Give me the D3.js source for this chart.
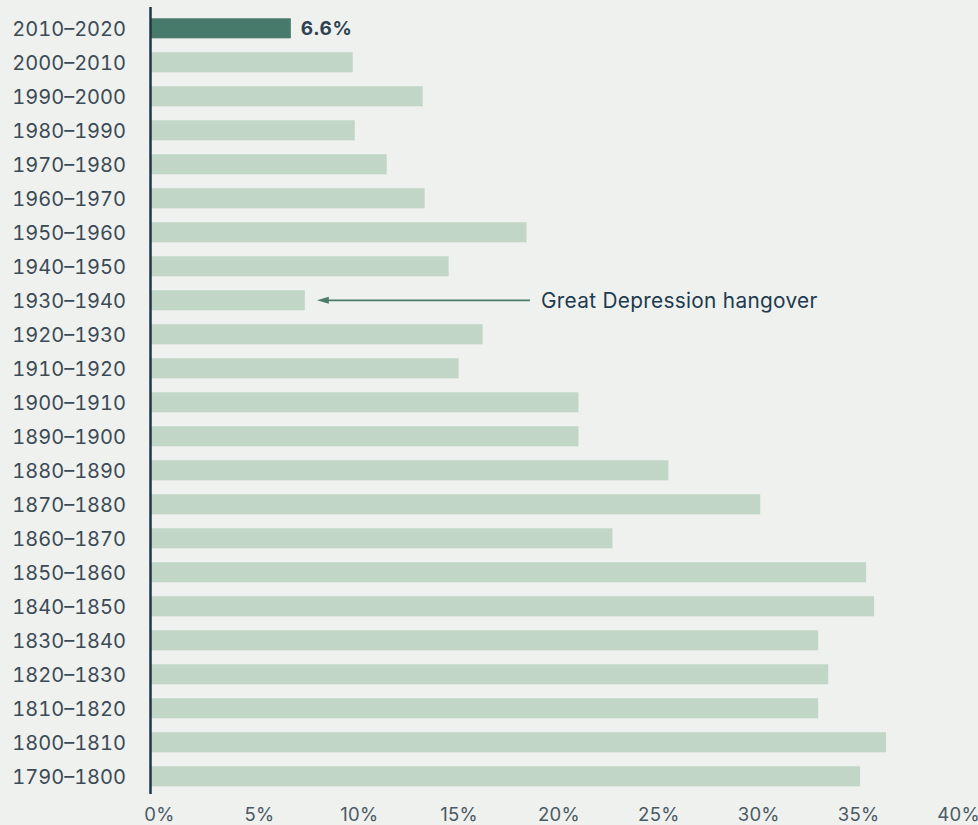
<!DOCTYPE html>
<html>
<head>
<meta charset="utf-8">
<script src="https://cdn.jsdelivr.net/npm/d3@7/dist/d3.min.js"></script>
<style>
  html, body { margin: 0; padding: 0; background: #eff1ee; }
  svg { display: block; }
</style>
</head>
<body>
<svg id="chart" width="978" height="825"></svg>
<script>
const decades = ["2010–2020","2000–2010","1990–2000","1980–1990","1970–1980","1960–1970","1950–1960","1940–1950","1930–1940","1920–1930","1910–1920","1900–1910","1890–1900","1880–1890","1870–1880","1860–1870","1850–1860","1840–1850","1830–1840","1820–1830","1810–1820","1800–1810","1790–1800"];
const growth = [6.6, 9.7, 13.2, 9.8, 11.4, 13.3, 18.4, 14.5, 7.3, 16.2, 15.0, 21.0, 21.0, 25.5, 30.1, 22.7, 35.4, 35.8, 33.0, 33.5, 33.0, 36.4, 35.1];
const tickValues = [0, 5, 10, 15, 20, 25, 30, 35, 40];
const highlight = "2010–2020";
const annotation = { decade: "1930–1940", text: "Great Depression hangover" };

const svg = d3.select("#chart");
const axisX = 150.5;
const x = d3.scaleLinear().domain([0, 40]).range([159, 958]);
const y = d3.scaleBand().domain(decades).range([11.3, 11.3 + 23 * 34]).paddingInner(0.41).paddingOuter(0.205);

// bars
svg.append("g").selectAll("rect")
  .data(decades.map((d, i) => ({ d, v: growth[i] })))
  .join("rect")
  .attr("x", axisX)
  .attr("y", d => y(d.d))
  .attr("width", d => x(d.v) - axisX)
  .attr("height", y.bandwidth())
  .attr("fill", d => d.d === highlight ? "#487a6b" : "#c1d6c7");

// category labels
svg.append("g").selectAll("text")
  .data(decades)
  .join("text")
  .attr("x", 126)
  .attr("y", d => y(d) + y.bandwidth() / 2)
  .attr("dy", "0.36em")
  .attr("text-anchor", "end")
  .attr("font-family", "Inter, sans-serif")
  .attr("font-size", 20)
  .attr("letter-spacing", "0px")
  .style("font-variant-numeric", "tabular-nums")
  .attr("fill", "#3b4a55")
  .text(d => d);

// axis line
svg.append("line")
  .attr("x1", axisX).attr("x2", axisX)
  .attr("y1", 7).attr("y2", 794)
  .attr("stroke", "#1f3647").attr("stroke-width", 2.5);

// x tick labels
const xAxis = d3.axisBottom(x).tickValues(tickValues).tickFormat(d => d + "%").tickSize(0).tickPadding(0);
const gx = svg.append("g").attr("transform", "translate(0,808)").call(xAxis);
gx.select(".domain").remove();
gx.selectAll("text")
  .attr("font-family", "Inter, sans-serif")
  .attr("font-size", 18.5)
  .attr("fill", "#4b5a65")
  .attr("letter-spacing", "0.3px");

// value label for highlighted bar
const hi = decades.indexOf(highlight);
svg.append("text")
  .attr("x", x(growth[hi]) + 10)
  .attr("y", y(highlight) + y.bandwidth() / 2)
  .attr("dy", "0.37em")
  .attr("font-family", "Inter, sans-serif")
  .attr("font-size", 19)
  .attr("font-weight", 700)
  .attr("letter-spacing", "0.6px")
  .attr("fill", "#2e4150")
  .text(growth[hi] + "%");

// annotation arrow
const ai = decades.indexOf(annotation.decade);
const ay = y(annotation.decade) + y.bandwidth() / 2;
svg.append("defs").append("marker")
  .attr("id", "arrow")
  .attr("viewBox", "0 0 12 8")
  .attr("refX", 1).attr("refY", 4)
  .attr("markerUnits", "userSpaceOnUse")
  .attr("markerWidth", 12).attr("markerHeight", 8)
  .attr("orient", "auto-start-reverse")
  .append("path").attr("d", "M0,0.5 L12,4 L0,7.5 Z").attr("fill", "#4a7c6b");
svg.append("line")
  .attr("x1", 530).attr("x2", x(growth[ai]) + 23)
  .attr("y1", ay).attr("y2", ay)
  .attr("stroke", "#4a7c6b").attr("stroke-width", 1.8)
  .attr("marker-end", "url(#arrow)");
svg.append("text")
  .attr("x", 541)
  .attr("y", ay)
  .attr("dy", "0.36em")
  .attr("font-family", "Inter, sans-serif")
  .attr("font-size", 20.8)
  .attr("letter-spacing", "0.3px")
  .attr("fill", "#203a4e")
  .text(annotation.text);
</script>
</body>
</html>
